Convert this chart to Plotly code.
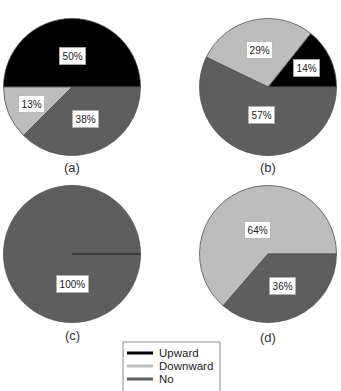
import math
import plotly.graph_objects as go

# ---------------- data ----------------
categories = ["Upward", "Downward", "No"]
panel_names = ["(a)", "(b)", "(c)", "(d)"]
values_a = [4, 1, 3]
values_b = [1, 2, 4]
values_c = [0, 0, 5]
values_d = [0, 7, 4]
pct_labels_a = ["50%", "13%", "38%"]
pct_labels_b = ["14%", "29%", "57%"]
pct_labels_c = ["", "", "100%"]
pct_labels_d = ["", "64%", "36%"]
colors = ["#000000", "#bdbdbd", "#5e5e5e"]

panels = [
    (values_a, pct_labels_a),
    (values_b, pct_labels_b),
    (values_c, pct_labels_c),
    (values_d, pct_labels_d),
]

# ---------------- layout constants (pixels) ----------------
W, H = 341, 391
R = 68.5
centers = [(72, 87), (268, 87), (72, 254), (268, 254)]
caption_y = [167, 167, 335, 337]
FONT = "Liberation Sans, Arial, sans-serif"


def px(x):
    return x / W


def py(y):
    return 1 - y / H


fig = go.Figure()
annotations = []
shapes = []

for (vals, labs), (cx, cy), name, cap_y in zip(panels, centers, panel_names, caption_y):
    total = sum(vals)
    # plotly (counterclockwise): first slice spans [rotation, rotation + its angle];
    # we want the first slice to start at 3 o'clock and run counterclockwise
    rot = 90 - 360 * vals[0] / total
    fig.add_trace(go.Pie(
        labels=categories,
        values=vals,
        sort=False,
        direction="counterclockwise",
        rotation=rot,
        marker=dict(colors=colors, line=dict(color="#505050", width=0.8)),
        textinfo="none",
        hoverinfo="label+percent",
        showlegend=False,
        domain=dict(x=[px(cx - R), px(cx + R)], y=[py(cy + R), py(cy - R)]),
    ))
    start = 0.0
    for v, lab in zip(vals, labs):
        frac = v / total
        span = 360 * frac
        if v > 0 and lab:
            if frac >= 0.999:
                ang = 270.0
                f = 0.44
            else:
                ang = start + span / 2
                f = max(0.36, 0.7 - 0.5 * frac)
            lx = cx + f * R * math.cos(math.radians(ang))
            ly = cy - f * R * math.sin(math.radians(ang))
            annotations.append(dict(
                x=px(lx), y=py(ly), xref="paper", yref="paper",
                xanchor="center", yanchor="middle",
                text=lab, showarrow=False,
                font=dict(family=FONT, size=10, color="#222"),
                bgcolor="white", bordercolor="#9a9a9a", borderwidth=0.6, borderpad=3,
            ))
        if frac >= 0.999:
            # seam of the zero-width slices at the start angle
            shapes.append(dict(
                type="line", xref="paper", yref="paper",
                x0=px(cx), y0=py(cy), x1=px(cx + R), y1=py(cy),
                line=dict(color="#1a1a1a", width=1.2),
            ))
        start += span
    annotations.append(dict(
        x=px(cx), y=py(cap_y), xref="paper", yref="paper",
        xanchor="center", yanchor="middle",
        text=name, showarrow=False,
        font=dict(family=FONT, size=13, color="#333"),
    ))

# ---------------- legend (line keys) ----------------
leg_x0, leg_y0, leg_x1, leg_y1 = 123, 342, 220, 398
shapes.append(dict(type="rect", xref="paper", yref="paper",
                   x0=px(leg_x0), y0=py(leg_y0), x1=px(leg_x1), y1=py(leg_y1),
                   line=dict(color="#8a8a8a", width=1), fillcolor="white", layer="below"))
for i, (cat, col) in enumerate(zip(categories, colors)):
    yy = 353 + 13 * i
    shapes.append(dict(type="line", xref="paper", yref="paper",
                       x0=px(127), x1=px(153), y0=py(yy), y1=py(yy),
                       line=dict(color=col, width=3)))
    annotations.append(dict(x=px(157), y=py(yy), xref="paper", yref="paper",
                            xanchor="left", yanchor="middle", text=cat, showarrow=False,
                            font=dict(family=FONT, size=11.5, color="#222")))

fig.update_layout(
    width=W, height=H,
    margin=dict(l=0, r=0, t=0, b=0),
    paper_bgcolor="white",
    plot_bgcolor="white",
    annotations=annotations,
    shapes=shapes,
    showlegend=False,
)

fig.write_html("out.html")
